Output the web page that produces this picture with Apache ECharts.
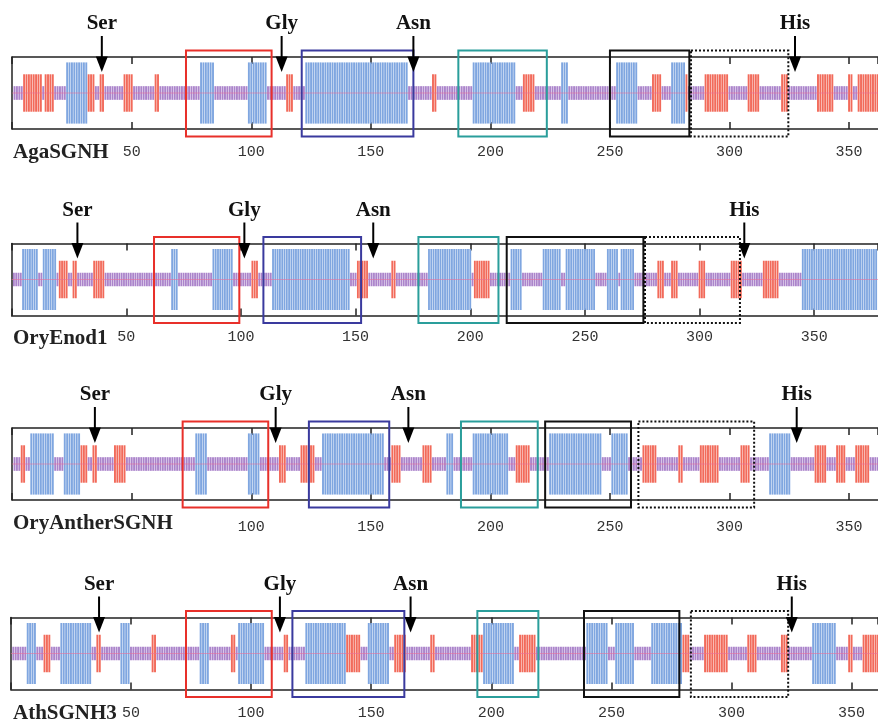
<!DOCTYPE html>
<html><head><meta charset="utf-8">
<script src="https://cdn.jsdelivr.net/npm/echarts@6/dist/echarts.min.js"></script>
<style>html,body{margin:0;padding:0;background:#fff}#c{width:878px;height:721px}</style>
</head><body><div id="c"></div>
<script>
// ---- data ----
const positionTicks = [50, 100, 150, 200, 250, 300, 350];
const proteinNames = ['AgaSGNH', 'OryEnod1', 'OryAntherSGNH', 'AthSGNH3'];
const sequenceExtent = [362.1, 377.8, 362.1, 361.0];
const motifNames = ['Ser', 'Gly', 'Asn', 'His'];

// secondary structure segments [first residue, last residue]
const agaHelix = [[23,31],[79,84],[99,106],[123,165],[193,210],[230,232],[253,261],[276,281]];
const agaStrand = [[5,12],[14,17],[32,34],[37,38],[47,50],[60,61],[115,117],[176,177],[214,218],[268,271],[282,282],[290,299],[308,312],[322,324],[337,343],[350,351],[354,368]];
const enodHelix = [[5,11],[14,19],[70,72],[88,96],[114,147],[182,200],[218,222],[232,239],[242,254],[260,264],[266,271],[345,384]];
const enodStrand = [[21,24],[27,28],[36,40],[105,107],[151,155],[166,167],[202,208],[282,284],[288,290],[300,302],[314,318],[328,334]];
const antherHelix = [[8,17],[22,28],[77,81],[99,103],[130,155],[182,184],[193,207],[225,246],[251,257],[317,325]];
const antherStrand = [[4,5],[29,31],[34,35],[43,47],[112,114],[121,126],[159,162],[172,175],[211,216],[264,269],[279,280],[288,295],[305,308],[336,340],[345,348],[353,358]];
const athHelix = [[7,10],[21,33],[46,49],[79,82],[95,105],[123,139],[149,157],[197,209],[240,248],[252,259],[267,279],[334,343]];
const athStrand = [[14,16],[36,37],[59,60],[92,93],[114,115],[140,145],[160,164],[175,176],[192,196],[212,218],[280,282],[289,298],[307,310],[321,323],[349,350],[355,366]];

// motif arrow positions (residue) : Ser, Gly, Asn, His
const agaMotifs = [37.5, 112.7, 167.8, 327.4];
const enodMotifs = [28.7, 101.5, 157.7, 319.5];
const antherMotifs = [34.6, 110.2, 165.7, 328.1];
const athMotifs = [36.7, 112, 166.4, 325.1];

// boxed blocks [start, end] : red, navy, teal, black, dotted
const agaBlocks = [[72.7,108.5],[121.1,167.8],[186.6,223.6],[250,283.2],[283.9,324.6]];
const enodBlocks = [[62.1,99.3],[109.8,152.4],[177.4,212.3],[215.9,275.5],[276.2,317.6]];
const antherBlocks = [[71.3,107.1],[124.1,157.7],[187.7,219.8],[222.9,258.8],[261.9,310.3]];
const athBlocks = [[72.9,108.6],[117.2,163.8],[194.2,219.6],[238.6,278.3],[283.1,323.6]];

// ---- styling / layout ----
const layout = [
  {left: 12.15, top: 57,    labelMargin: 15.2, nameTop: 142, hide50: false},
  {left: 11.6,  top: 243.5, labelMargin: 13.7, nameTop: 328, hide50: false},
  {left: 12.15, top: 428,   labelMargin: 19.2, nameTop: 513, hide50: true},
  {left: 10.9,  top: 617.5, labelMargin: 16.2, nameTop: 703, hide50: false}
];
const helixList = [agaHelix, enodHelix, antherHelix, athHelix];
const strandList = [agaStrand, enodStrand, antherStrand, athStrand];
const motifList = [agaMotifs, enodMotifs, antherMotifs, athMotifs];
const blockList = [agaBlocks, enodBlocks, antherBlocks, athBlocks];

const typeHeight = [0.19, 0.52, 0.85];
const typeColor = ['#ab84cb', '#f26a5a', '#7fa6e0'];
const blockStroke = ['#e8302a', '#3a3a9e', '#2a9e9b', '#111111', '#111111'];

function residues(extent, helix, strand) {
  const n = Math.floor(extent);
  const t = new Array(n + 2).fill(0);
  strand.forEach(([a, b]) => { for (let r = a; r <= b && r <= n; r++) t[r] = 1; });
  helix.forEach(([a, b]) => { for (let r = a; r <= b && r <= n; r++) t[r] = 2; });
  const out = [];
  for (let r = 1; r <= n; r++) out.push([r, t[r]]);
  return out;
}

const grids = [], xAxes = [], yAxes = [], series = [], titles = [];
layout.forEach((p, i) => {
  const ext = sequenceExtent[i];
  grids.push({left: p.left, top: p.top, right: 0, height: 72, show: false});
  const tick = {inside: true, length: 7, lineStyle: {color: '#222', width: 1.5}};
  const line = {show: true, onZero: false, lineStyle: {color: '#222', width: 1.5}};
  xAxes.push({gridIndex: i, type: 'value', min: 0, max: ext, interval: 50, position: 'bottom',
    axisLine: line, splitLine: {show: false}, axisTick: tick,
    axisLabel: {margin: p.labelMargin, fontFamily: 'Liberation Mono', fontSize: 15, color: '#333',
      showMaxLabel: false,
      formatter: v => (positionTicks.includes(v) && !(p.hide50 && v === 50)) ? String(v) : ''}});
  xAxes.push({gridIndex: i, type: 'value', min: 0, max: ext, interval: 50, position: 'top',
    axisLine: line, splitLine: {show: false}, axisTick: tick, axisLabel: {show: false}});
  yAxes.push({gridIndex: i, type: 'value', min: -1, max: 1, position: 'left',
    axisLine: line, axisTick: {show: false}, axisLabel: {show: false}, splitLine: {show: false}});

  series.push({
    type: 'custom', xAxisIndex: 2 * i, yAxisIndex: i, clip: true, silent: true,
    data: residues(ext, helixList[i], strandList[i]),
    renderItem: (params, api) => {
      const r = api.value(0), t = api.value(1);
      const h = typeHeight[t];
      const a = api.coord([r, h]), b = api.coord([r, -h]);
      const w = api.size([1, 0])[0];
      return {type: 'rect', shape: {x: a[0] - w * 0.4, y: a[1], width: w * 0.8, height: b[1] - a[1]},
        style: {fill: typeColor[t]}};
    }
  });
  series.push({
    type: 'line', xAxisIndex: 2 * i, yAxisIndex: i, silent: true, symbol: 'none',
    data: [[0, 0], [ext, 0]], lineStyle: {color: 'rgba(236,110,150,0.7)', width: 0.8}, z: 3
  });
  series.push({
    type: 'custom', xAxisIndex: 2 * i, yAxisIndex: i, clip: false, silent: true, z: 4,
    data: blockList[i].map((b, k) => [b[0], b[1], k]),
    renderItem: (params, api) => {
      const a = api.coord([api.value(0), 1]);
      const b = api.coord([api.value(1), -1]);
      const k = api.value(2);
      return {type: 'rect', shape: {x: a[0], y: a[1] - 6.5, width: b[0] - a[0], height: b[1] - a[1] + 14},
        style: {fill: 'none', stroke: blockStroke[k], lineWidth: 2, lineDash: k === 4 ? [2, 2] : null}};
    }
  });
  series.push({
    type: 'custom', xAxisIndex: 2 * i, yAxisIndex: i, clip: false, silent: true, z: 5,
    data: motifList[i].map(v => [v]),
    renderItem: (params, api) => {
      const p0 = api.coord([api.value(0), 1]);
      const x = p0[0], y = p0[1];
      return {type: 'group', children: [
        {type: 'line', shape: {x1: x, y1: y - 21, x2: x, y2: y}, style: {stroke: '#000', lineWidth: 2}},
        {type: 'polygon', shape: {points: [[x - 6, y - 0.5], [x + 6, y - 0.5], [x, y + 15]]}, style: {fill: '#000'}},
        {type: 'text', style: {text: motifNames[params.dataIndex], x: x, y: y - 33,
          font: 'bold 21px "Liberation Serif"', align: 'center', verticalAlign: 'middle', fill: '#111'}}
      ]};
    }
  });
  titles.push({text: proteinNames[i], left: 13, top: p.nameTop, padding: 0,
    textStyle: {fontFamily: 'Liberation Serif', fontWeight: 'bold', fontSize: 21, color: '#222'}});
});

const chart = echarts.init(document.getElementById('c'), null, {renderer: 'canvas'});
chart.setOption({
  animation: false,
  backgroundColor: '#fff',
  title: titles,
  grid: grids,
  xAxis: xAxes,
  yAxis: yAxes,
  series: series
});
</script></body></html>
